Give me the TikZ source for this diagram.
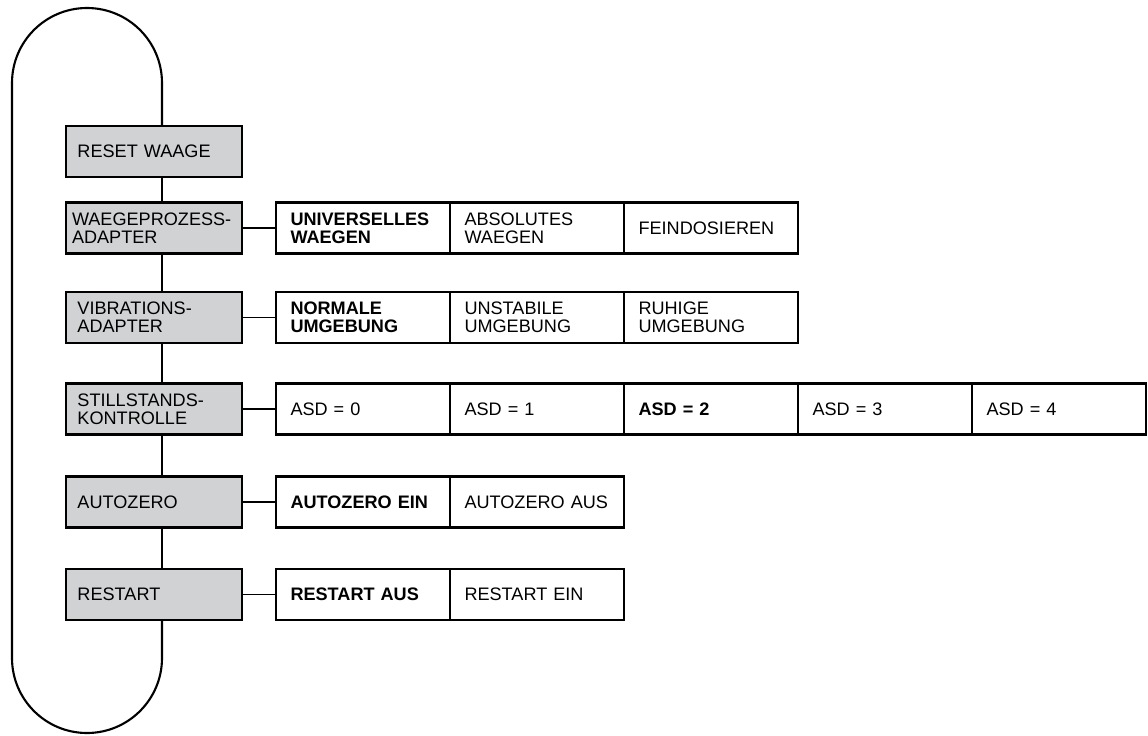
\documentclass[tikz,border=0pt]{standalone}
\usepackage{fontspec}
\setmainfont{Liberation Sans}
\usetikzlibrary{positioning}
\definecolor{menugray}{RGB}{209,210,212}
\newcommand{\boxfont}{\fontsize{10.3}{10.4}\selectfont}
\tikzset{
  menu/.style={draw,fill=menugray,line width=1.5pt,outer sep=0pt,
    minimum width=3.52cm,minimum height=1.02cm,text width=3.06cm,
    inner xsep=0.23cm,align=left,font=\boxfont},
  option/.style={draw,line width=1.5pt,outer sep=0pt,
    minimum width=3.48cm,minimum height=1.02cm,text width=2.9cm,
    inner xsep=0.29cm,align=left,font=\boxfont,anchor=west},
  pick/.style={option,font=\boxfont\bfseries},
  link/.style={line width=0.6pt},
  spine/.style={line width=1.2pt}
}

\begin{document}
\begin{tikzpicture}[x=0.2mm,y=0.2mm]
\useasboundingbox (0,0) rectangle (1148,735);
\coordinate (looptop) at (162,652);
\coordinate (loopbot) at (162,77);

% menu column
\node[menu] (reset) at (154,583.5) {RESET WAAGE};
\node[menu,inner xsep=0.12cm,text width=3.28cm] (wp) at (154,507)
  {\mbox{WAEGEPROZESS-}\\ADAPTER};
\node[menu] (vib) at (154,417.5) {VIBRATIONS-\\ADAPTER};
\node[menu] (still) at (154,326) {STILLSTANDS-\\KONTROLLE};
\node[menu] (az) at (154,233) {AUTOZERO};
\node[menu] (restart) at (154,140.5) {RESTART};

% options
\node[pick] (uni) at (276,507) {UNIVERSELLES\\WAEGEN};
\node[option,right=0cm of uni] (abs) {ABSOLUTES\\WAEGEN};
\node[option,right=0cm of abs] (fein) {FEINDOSIEREN};

\node[pick] (norm) at (276,417.5) {NORMALE\\UMGEBUNG};
\node[option,right=0cm of norm] (unst) {UNSTABILE\\UMGEBUNG};
\node[option,right=0cm of unst] (ruhig) {RUHIGE\\UMGEBUNG};

\node[option] (asd0) at (276,326) {ASD = 0};
\node[option,right=0cm of asd0] (asd1) {ASD = 1};
\node[pick,right=0cm of asd1] (asd2) {ASD = 2};
\node[option,right=0cm of asd2] (asd3) {ASD = 3};
\node[option,right=0cm of asd3] (asd4) {ASD = 4};

\node[pick] (azein) at (276,233) {AUTOZERO EIN};
\node[option,right=0cm of azein] (azaus) {AUTOZERO AUS};

\node[pick] (rsaus) at (276,140.5) {RESTART AUS};
\node[option,right=0cm of rsaus] (rsein) {RESTART EIN};

% connectors
\draw[spine] (reset.south -| looptop) -- (wp.north -| looptop);
\draw[spine] (wp.south -| looptop) -- (vib.north -| looptop);
\draw[spine] (vib.south -| looptop) -- (still.north -| looptop);
\draw[spine] (still.south -| looptop) -- (az.north -| looptop);
\draw[spine] (az.south -| looptop) -- (restart.north -| looptop);

\draw[link] (wp) -- (uni);
\draw[link] (vib) -- (norm);
\draw[link] (still) -- (asd0);
\draw[link] (az) -- (azein);
\draw[link] (restart) -- (rsaus);

% loop back
\draw[spine] (reset.north -| looptop) -- (looptop)
  arc[start angle=0,end angle=180,radius=75] -- ++(0,-575)
  arc[start angle=180,end angle=360,radius=75] -- (restart.south -| loopbot);
\end{tikzpicture}
\end{document}
